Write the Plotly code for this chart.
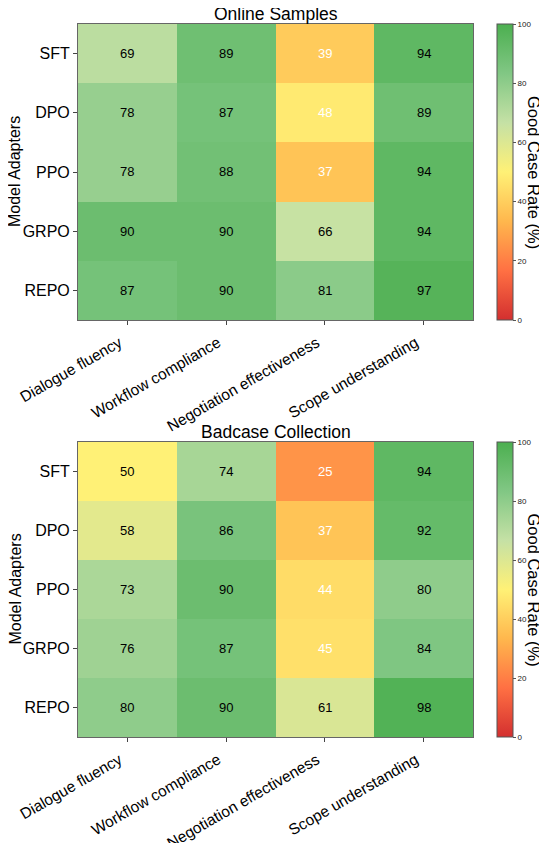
import plotly.graph_objects as go

models = ["SFT", "DPO", "PPO", "GRPO", "REPO"]
criteria = ["Dialogue fluency", "Workflow compliance", "Negotiation effectiveness", "Scope understanding"]

online_values = [
    [69, 89, 39, 94],
    [78, 87, 48, 89],
    [78, 88, 37, 94],
    [90, 90, 66, 94],
    [87, 90, 81, 97],
]
badcase_values = [
    [50, 74, 25, 94],
    [58, 86, 37, 92],
    [73, 90, 44, 80],
    [76, 87, 45, 84],
    [80, 90, 61, 98],
]
titles = ["Online Samples", "Badcase Collection"]

colorscale = [
    [0.0, "#d32f2f"],
    [1 / 6, "#ff7043"],
    [2 / 6, "#ffb74d"],
    [0.5, "#fff176"],
    [4 / 6, "#c5e1a5"],
    [5 / 6, "#81c784"],
    [1.0, "#4caf50"],
]

OFF = 8  # page body margin
W, H = 547 - OFF, 843 - OFF
FONT = "Liberation Sans, Arial, sans-serif"


def px(x):
    return (x - OFF) / W


def py(y):
    return 1 - (y - OFF) / H


x0, x1 = px(78), px(473)
ydoms = [(py(320), py(24)), (py(737), py(442))]

fig = go.Figure()
annotations = []
for i, (vals, title) in enumerate(zip([online_values, badcase_values], titles)):
    xa = "x" if i == 0 else "x2"
    ya = "y" if i == 0 else "y2"
    yd = ydoms[i]
    ymid = (yd[0] + yd[1]) / 2
    fig.add_trace(go.Heatmap(
        z=vals, x=criteria, y=models, xaxis=xa, yaxis=ya,
        colorscale=colorscale, zmin=0, zmax=100,
        xgap=0, ygap=0,
        colorbar=dict(
            x=px(497), xanchor="left", thickness=16, thicknessmode="pixels",
            len=yd[1] - yd[0], lenmode="fraction", y=ymid, yanchor="middle",
            outlinecolor="#555", outlinewidth=1, xpad=0, ypad=0,
            tickvals=[0, 20, 40, 60, 80, 100], ticks="outside", ticklen=3,
            tickcolor="#555", tickfont=dict(size=8, family=FONT, color="#222"),
        ),
        hoverinfo="skip",
    ))
    for r, m in enumerate(models):
        for c, cat in enumerate(criteria):
            v = vals[r][c]
            annotations.append(dict(
                x=cat, y=m, xref=xa, yref=ya, text=str(v), showarrow=False,
                font=dict(size=13, family=FONT, color="white" if v < 50 else "black"),
            ))
    annotations.append(dict(
        x=(x0 + x1) / 2, y=yd[1], xref="paper", yref="paper",
        xanchor="center", yanchor="bottom",
        text=title, showarrow=False, font=dict(size=17.5, family=FONT, color="black"),
        yshift=-2,
    ))
    annotations.append(dict(
        x=px(15), y=ymid, xref="paper", yref="paper", xanchor="center", yanchor="middle",
        text="Model Adapters", textangle=-90, showarrow=False,
        font=dict(size=16, family=FONT, color="black"),
    ))
    annotations.append(dict(
        x=px(534), y=ymid, xref="paper", yref="paper", xanchor="center", yanchor="middle",
        text="Good Case Rate (%)", textangle=90, showarrow=False,
        font=dict(size=16.5, family=FONT, color="black"),
    ))

axis_common = dict(showline=True, linecolor="#666", linewidth=1, mirror=True, automargin=False,
                   ticks="outside", ticklen=4, tickcolor="#444", showgrid=False, zeroline=False)
xaxis_extra = dict(tickangle=-30, ticklabelshift=-8, ticklabelstandoff=3,
                   tickfont=dict(size=15.5, color="black"))

fig.update_layout(
    width=W, height=H, margin=dict(l=0, r=0, t=0, b=0, autoexpand=False),
    paper_bgcolor="white", plot_bgcolor="white",
    font=dict(family=FONT),
    xaxis=dict(domain=[x0, x1], anchor="y", **xaxis_extra, **axis_common),
    yaxis=dict(domain=list(ydoms[0]), anchor="x", autorange="reversed",
               tickfont=dict(size=16, color="black"), **axis_common),
    xaxis2=dict(domain=[x0, x1], anchor="y2", **xaxis_extra, **axis_common),
    yaxis2=dict(domain=list(ydoms[1]), anchor="x2", autorange="reversed",
                tickfont=dict(size=16, color="black"), **axis_common),
    annotations=annotations,
)

fig.write_html("out.html")
